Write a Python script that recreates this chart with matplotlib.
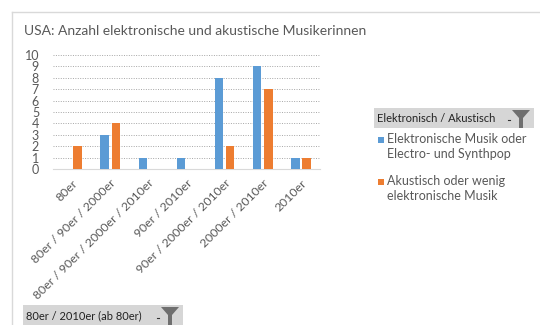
import matplotlib
matplotlib.use("Agg")
import matplotlib.pyplot as plt
import numpy as np
from matplotlib.patches import Rectangle, Polygon

plt.rcParams['font.family'] = ['Lato', 'DejaVu Sans']

categories = ["80er", "80er / 90er / 2000er", "80er / 90er / 2000er / 2010er",
              "90er / 2010er", "90er / 2000er / 2010er", "2000er / 2010er", "2010er"]
elektronisch = [0, 3, 1, 1, 8, 9, 1]
akustisch = [2, 4, 0, 0, 2, 7, 1]
series_names = ["Elektronische Musik oder\nElectro- und Synthpop",
                "Akustisch oder wenig\nelektronische Musik"]
colors = ["#5B9BD5", "#ED7D31"]
text_grey = "#595959"

W, H = 540, 325
fig = plt.figure(figsize=(W / 100, H / 100), dpi=100)

# overlay in pixel units for frame, title, legend and filter buttons
bg = fig.add_axes([0, 0, 1, 1])
bg.set_xlim(0, W)
bg.set_ylim(H, 0)
bg.axis("off")

bg.plot([12, 12], [12, H], color="#D9D9D9", lw=1)
bg.plot([12, W], [12, 12], color="#D9D9D9", lw=1)

bg.text(24, 31, "USA: Anzahl elektronische und akustische Musikerinnen",
        fontsize=10, color=text_grey, va="center", ha="left")


def filter_button(x, y, w, h, label):
    bg.add_patch(Rectangle((x, y), w, h, facecolor="#D6D6D6", edgecolor="none"))
    bg.text(x + 3, y + h / 2, label, fontsize=8, color="#222222", va="center", ha="left")
    fx = x + w - 22
    bg.add_patch(Polygon([(fx, y + 2), (fx + 18, y + 2), (fx + 11, y + 10),
                          (fx + 11, y + h), (fx + 7, y + h), (fx + 7, y + 10)],
                         closed=True, facecolor="#6F6F6F", edgecolor="none"))
    bg.plot([fx - 4, fx - 2], [y + h / 2 + 2, y + h / 2 + 2], color="#333333", lw=0.8)


filter_button(374, 108, 160, 20, "Elektronisch / Akustisch")
filter_button(23, 305, 160, 22, "80er / 2010er (ab 80er)")

# legend entries
for i, (name, c) in enumerate(zip(series_names, colors)):
    y0 = 140 + i * 42
    bg.add_patch(Rectangle((378, y0 - 3.5), 6, 6, facecolor=c, edgecolor="none"))
    bg.text(387, y0 - 7, name, fontsize=9, color=text_grey, va="top", ha="left",
            linespacing=1.3)

# chart area
ax = fig.add_axes([53 / W, 1 - 169 / H, 267 / W, 114 / H])
x = np.arange(len(categories))
bw = 0.22
ax.bar(x - 0.145, elektronisch, width=bw, color=colors[0], zorder=3)
ax.bar(x + 0.145, akustisch, width=bw, color=colors[1], zorder=3)

ax.set_xlim(-0.5, len(categories) - 0.5)
ax.set_ylim(0, 10)
ax.set_yticks(range(0, 11))
ax.yaxis.grid(True, linestyle=(0, (1, 1.5)), color="#A6A6A6", lw=0.7, zorder=0)
for s in ["top", "right", "left"]:
    ax.spines[s].set_visible(False)
ax.spines["bottom"].set_color("#D9D9D9")
ax.tick_params(axis="both", length=0, colors=text_grey)
ax.tick_params(axis="y", pad=10, labelsize=9)
ax.set_xticks(x)
ax.set_xticklabels(categories, rotation=45, ha="right", va="top",
                   rotation_mode="anchor", fontsize=8.8)
ax.tick_params(axis="x", pad=6)
ax.set_facecolor("none")

fig.savefig("out.png", dpi=100)
